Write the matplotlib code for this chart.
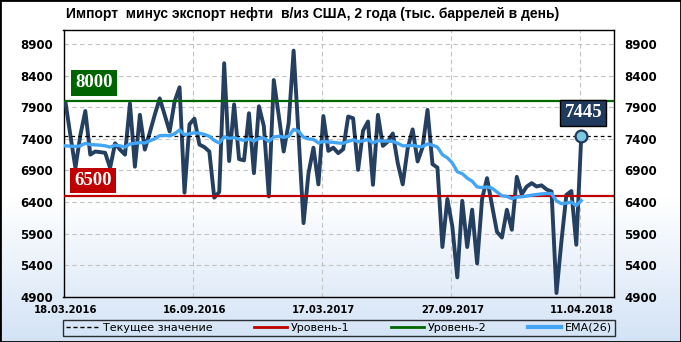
import numpy as np
import matplotlib
matplotlib.use('Agg')
import matplotlib.pyplot as plt
from matplotlib.lines import Line2D
from matplotlib.patches import Rectangle
from matplotlib.colors import LinearSegmentedColormap

# weekly values, thousand barrels per day
values = [7980, 7450, 6940, 7460, 7840, 7150, 7200, 7190, 7180, 6940,
          7330, 7230, 7150, 7960, 6960, 7780, 7230, 7500, 7780, 8040,
          7780, 7516, 7990, 8216, 6550, 7630, 7720, 7310, 7270, 7200,
          6470, 6560, 8595, 7050, 7945, 7080, 7060, 7805, 6858, 7915,
          7600, 6490, 8330, 7770, 7200, 7650, 8795, 7450, 6068, 6858,
          7260, 6680, 7760, 7210, 7260, 7174, 7237, 7753, 7726, 6910,
          7530, 7674, 6674, 7779, 7289, 7358, 7485, 7016, 6680, 7250,
          7550, 7042, 7266, 7858, 7000, 6945, 5690, 6450, 6016, 5210,
          6420, 5690, 6280, 5430, 6450, 6779, 6350, 5930, 5840, 6279,
          5963, 6800, 6525, 6645, 6700, 6647, 6665, 6600, 6568, 4963,
          5780, 6515, 6575, 5726, 7445]

ema26 = [7290, 7285, 7280, 7290, 7330, 7310, 7305, 7300, 7290, 7270,
         7300, 7290, 7270, 7320, 7330, 7340, 7335, 7370, 7400, 7450,
         7455, 7450, 7480, 7540, 7465, 7480, 7495, 7490, 7470, 7440,
         7375, 7335, 7430, 7410, 7420, 7395, 7375, 7400, 7365, 7410,
         7415, 7360, 7430, 7440, 7425, 7440, 7550, 7520, 7425, 7400,
         7390, 7335, 7360, 7350, 7345, 7335, 7330, 7360, 7385, 7355,
         7370, 7390, 7335, 7370, 7365, 7365, 7360, 7330, 7290, 7290,
         7300, 7280, 7280, 7320, 7300, 7270, 7150, 7100, 7020, 6880,
         6850, 6780, 6730, 6640, 6630, 6640, 6620, 6560, 6500, 6490,
         6455, 6480, 6485, 6495, 6510, 6520, 6530, 6535, 6535, 6420,
         6375, 6385, 6400, 6345, 6425]

level1 = 6500
level2 = 8000
tick_pos = [0, 26, 52, 78, 104]
tick_labels = ['18.03.2016', '16.09.2016', '17.03.2017', '27.09.2017', '11.04.2018']
y_ticks = list(range(4900, 9000, 500))

title = 'Импорт  минус экспорт нефти  в/из США, 2 года (тыс. баррелей в день)'

W, H = 681, 342
fig = plt.figure(figsize=(W / 100, H / 100), dpi=100)

# background gradient: white on top, light blue at the bottom
bg = fig.add_axes([0, 0, 1, 1], zorder=-10)
cmap = LinearSegmentedColormap.from_list('bg', [(0, '#d3e3f6'), (0.42, '#ffffff'), (1, '#ffffff')])
grad = np.linspace(1, 0, 256).reshape(-1, 1)
bg.imshow(grad, aspect='auto', cmap=cmap, extent=[0, 1, 0, 1], vmin=0, vmax=1)
bg.axis('off')

ax = fig.add_axes([63.5 / W, 1 - 297 / H, (614 - 63.5) / W, (297 - 30) / H])
ax.set_facecolor('none')

x = np.arange(len(values))
ax.set_xlim(-0.4, 110.6)
ax.set_ylim(4900, 9121)

ax.set_yticks(y_ticks)
ax.set_xticks(tick_pos)
ax.set_xticklabels(tick_labels)
ax.tick_params(axis='y', length=0, labelright=True, pad=7.5, labelsize=8.5)
ax.tick_params(axis='x', length=0, pad=5.5, labelsize=7.2)
for lab in ax.get_yticklabels() + ax.get_xticklabels():
    lab.set_fontweight('bold')
    lab.set_family('DejaVu Sans')

ax.grid(axis='y', color='#c3c3c3', linestyle=(0, (4, 3)), lw=0.8)
for p in tick_pos[1:]:
    ax.axvline(p - 0.35, color='#c3c3c3', linestyle=(0, (4, 3)), lw=0.8, zorder=0.5)
for s in ax.spines.values():
    s.set_linewidth(1.0)
    s.set_color('black')

ax.plot(x, values, color='#243f60', lw=2.8, zorder=3, solid_joinstyle='round')
ax.axhline(level2, color='#006600', lw=1.6, zorder=4)
ax.axhline(level1, color='#c00000', lw=1.6, zorder=4)
ax.axhline(values[-1], color='black', lw=0.9, ls=(0, (3, 2.5)), zorder=4)
ax.plot(x, ema26, color='#42a5f5', lw=2.4, zorder=5)
ax.plot(x[-1], values[-1], 'o', ms=8.5, mfc='#7ec8e3', mec='#1f3a5c', mew=1.6, zorder=10)

box_font = dict(family='Liberation Serif', fontweight='bold', fontsize=13.5, color='white',
                ha='center', va='center', zorder=12)
ax.text(5.75, 8284, str(level2), bbox=dict(boxstyle='square,pad=0.22', fc='#006400', ec='none'), **box_font)
ax.text(5.55, 6745, str(level1), bbox=dict(boxstyle='square,pad=0.22', fc='#c00000', ec='none'), **box_font)
ax.text(104.4, 7810, str(values[-1]), bbox=dict(boxstyle='square,pad=0.22', fc='#1f3a5c', ec='black', lw=1),
        **box_font)

fig.text(66 / W, 1 - 14 / H, title, fontsize=10, fontweight='bold',
         family=['Liberation Sans Narrow', 'Liberation Sans'], va='center', ha='left')

handles = [Line2D([], [], color='black', lw=1.0, ls=(0, (3, 2))),
           Line2D([], [], color='#c00000', lw=2.0),
           Line2D([], [], color='#006600', lw=2.0),
           Line2D([], [], color='#42a5f5', lw=3.0)]
labels = ['Текущее значение', 'Уровень-1', 'Уровень-2', 'EMA(26)']
leg = fig.legend(handles, labels, loc='center', ncol=4, mode='expand',
                 bbox_to_anchor=(63 / W, 1 - 337 / H, (615 - 63) / W, 18 / H),
                 frameon=True, fancybox=False, edgecolor='black', facecolor='none',
                 fontsize=8, handlelength=3.0, handletextpad=0.35, borderaxespad=0,
                 borderpad=0.25, columnspacing=1.0)
leg.get_frame().set_linewidth(1.0)

fig.patches.append(Rectangle((0, 0), 1, 1, transform=fig.transFigure, fill=False,
                             edgecolor='black', lw=2.0, zorder=20))

fig.savefig('out.png', dpi=100)
